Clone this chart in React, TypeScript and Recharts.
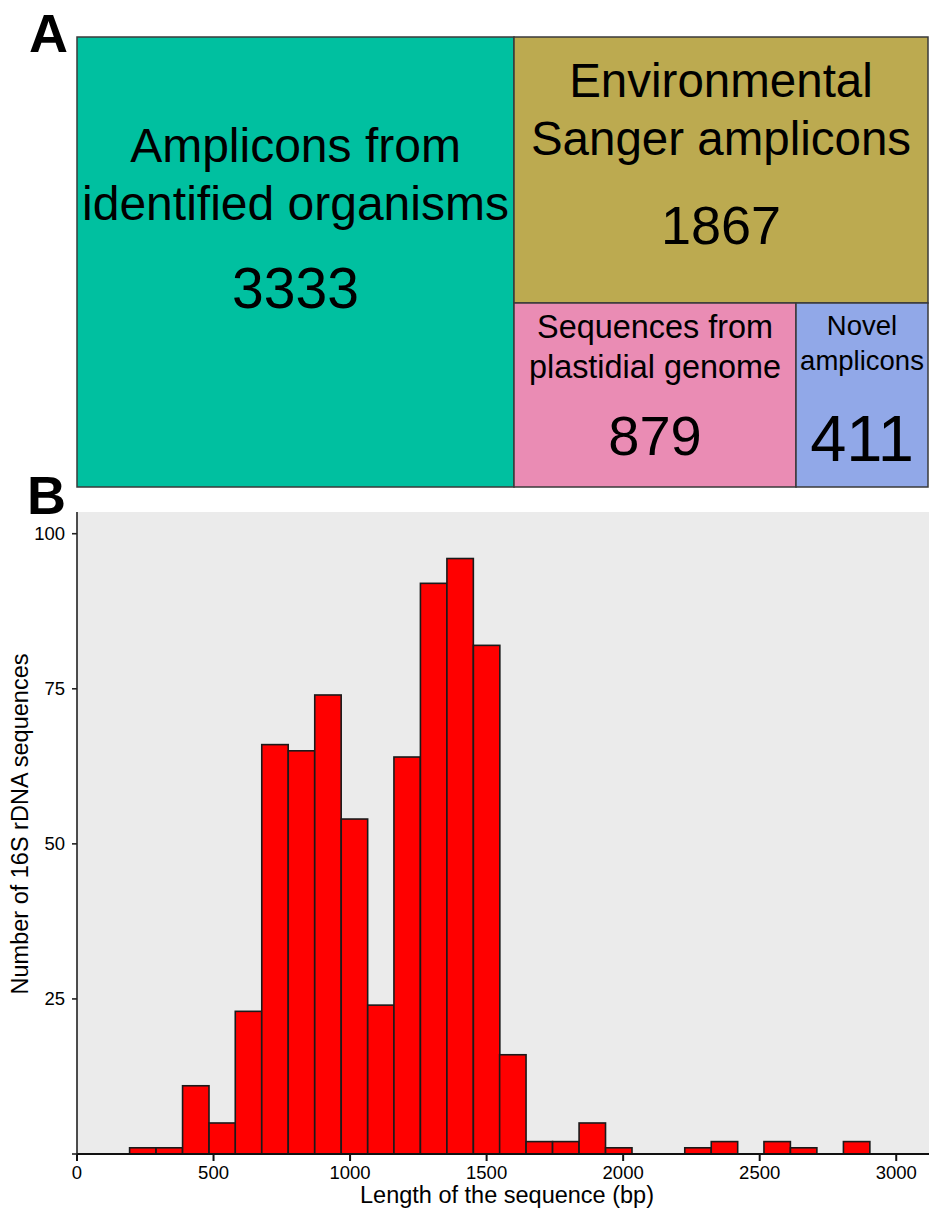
import React from 'react';
import { Treemap, BarChart, Bar, XAxis, YAxis, CartesianGrid, Label } from 'recharts';

// Panel A: sequence sources
const categories = [
  'Amplicons from identified organisms',
  'Environmental Sanger amplicons',
  'Sequences from plastidial genome',
  'Novel amplicons',
];
const categoryLines = [
  ['Amplicons from', 'identified organisms'],
  ['Environmental', 'Sanger amplicons'],
  ['Sequences from', 'plastidial genome'],
  ['Novel', 'amplicons'],
];
const categoryCounts = [3333, 1867, 879, 411];
const categoryColors = ['#00c0a0', '#bcaa50', '#ea8cb4', '#91a8e8'];

// Panel B: length histogram
const binStarts = [
  193, 290, 387, 484, 580, 677, 774, 871, 968, 1065, 1161, 1258, 1355, 1452,
  1548, 1645, 1742, 1839, 1936, 2032, 2129, 2226, 2323, 2420, 2516, 2613, 2710, 2807,
];
const binCounts = [
  1, 1, 11, 5, 23, 66, 65, 74, 54, 24, 64, 92, 96, 82,
  16, 2, 2, 5, 1, 0, 0, 1, 2, 0, 2, 1, 0, 2,
];
const BIN_WIDTH = 96.8;
const xTicks = [0, 500, 1000, 1500, 2000, 2500, 3000];
const yTicks = [0, 25, 50, 75, 100];

const X_MAX = 3120;
const Y_MAX = 103.5;

const treeData = categories.map((name, i) => ({
  name,
  size: categoryCounts[i],
  idx: i,
}));

const histData = binStarts.map((s, i) => ({
  mid: s + BIN_WIDTH / 2,
  count: binCounts[i],
}));

// label placement inside each treemap cell (baseline offsets from cell top)
const cellText = [
  { lineSize: 48, numSize: 57, lines: [125, 183], num: 271 },
  { lineSize: 47.5, numSize: 54, lines: [60, 118], num: 207 },
  { lineSize: 32.4, numSize: 56, lines: [35, 75], num: 152 },
  { lineSize: 27.5, numSize: 65, lines: [32, 67], num: 158 },
];

function TreemapCell(props: any) {
  const { x, y, width, height, depth, idx } = props;
  if (depth !== 1) return null;
  const t = cellText[idx];
  const cx = x + width / 2;
  return (
    <g>
      <rect
        x={x}
        y={y}
        width={width}
        height={height}
        fill={categoryColors[idx]}
        stroke="#3a3a3a"
        strokeWidth={1.5}
      />
      {categoryLines[idx].map((line, k) => (
        <text
          key={k}
          x={cx}
          y={y + t.lines[k]}
          textAnchor="middle"
          fontSize={t.lineSize}
          fill="#000"
        >
          {line}
        </text>
      ))}
      <text x={cx} y={y + t.num} textAnchor="middle" fontSize={t.numSize} fill="#000">
        {categoryCounts[idx]}
      </text>
    </g>
  );
}

const PLOT_W = 929 - 77;
const barPx = (PLOT_W * BIN_WIDTH) / X_MAX;

// histogram bins touch each other: widen every bar to the full bin width around its centre
function BinBar(props: any) {
  const { x, y, width, height } = props;
  if (!height || height <= 0) return null;
  const cx = x + width / 2;
  return (
    <rect
      x={cx - barPx / 2}
      y={y}
      width={barPx}
      height={height}
      fill="#ff0000"
      stroke="#1a1a1a"
      strokeWidth={1.6}
    />
  );
}

export default function App() {
  return (
    <div
      style={{
        position: 'absolute',
        left: 0,
        top: 0,
        width: 929,
        height: 1214,
        background: '#fff',
        fontFamily: "'Liberation Sans', Arial, sans-serif",
        overflow: 'hidden',
      }}
    >
      <style>{`.recharts-surface{overflow:visible}`}</style>

      <div style={{ position: 'absolute', left: 29, top: 13, fontSize: 54, lineHeight: '40px', fontWeight: 'bold' }}>A</div>

      <div style={{ position: 'absolute', left: 77, top: 37 }}>
        <Treemap
          width={851}
          height={450}
          data={treeData}
          dataKey="size"
          aspectRatio={1}
          isAnimationActive={false}
          content={<TreemapCell />}
        />
      </div>

      <div style={{ position: 'absolute', left: 27, top: 475, fontSize: 54, lineHeight: '40px', fontWeight: 'bold' }}>B</div>

      <div style={{ position: 'absolute', left: 0, top: 480 }}>
        <BarChart
          width={929}
          height={734}
          data={histData}
          margin={{ top: 32, right: 0, left: 0, bottom: 0 }}
          barCategoryGap={0}
          barGap={0}
        >
          <CartesianGrid horizontal={false} vertical={false} fill="#ebebeb" stroke="none" />
          <XAxis
            dataKey="mid"
            type="number"
            domain={[0, X_MAX]}
            ticks={xTicks}
            allowDataOverflow
            height={60}
            tickSize={7}
            tickMargin={5}
            interval={0}
            axisLine={{ stroke: '#111', strokeWidth: 2 }}
            tickLine={{ stroke: '#111', strokeWidth: 2 }}
            tick={{ fontSize: 18.5, fill: '#000' }}
          >
            <Label
              content={(p: any) => {
                const vb = p.viewBox || { x: 77, y: 674, width: 852, height: 60 };
                return (
                  <text x={vb.x + vb.width / 2 + 4} y={vb.y + 49} textAnchor="middle" fontSize={23.5} fill="#000">
                    Length of the sequence (bp)
                  </text>
                );
              }}
            />
          </XAxis>
          <YAxis
            type="number"
            domain={[0, Y_MAX]}
            ticks={yTicks}
            allowDataOverflow
            width={77}
            tickSize={5}
            tickMargin={7}
            interval={0}
            tickFormatter={(v: number) => (v === 0 ? '' : String(v))}
            axisLine={{ stroke: '#222', strokeWidth: 1.6 }}
            tickLine={{ stroke: '#222', strokeWidth: 1.6 }}
            tick={{ fontSize: 18.5, fill: '#000' }}
          >
            <Label
              content={(p: any) => {
                const vb = p.viewBox || { x: 0, y: 32, width: 77, height: 642 };
                const cy = vb.y + vb.height / 2 - 9;
                return (
                  <text
                    x={28}
                    y={cy}
                    transform={`rotate(-90 28 ${cy})`}
                    textAnchor="middle"
                    fontSize={23.5}
                    fill="#000"
                  >
                    Number of 16S rDNA sequences
                  </text>
                );
              }}
            />
          </YAxis>
          <Bar dataKey="count" shape={<BinBar />} isAnimationActive={false} />
        </BarChart>
      </div>
    </div>
  );
}
